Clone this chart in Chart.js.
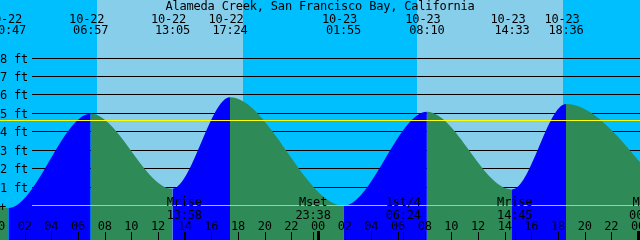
<!DOCTYPE html>
<html lang="en">
<head>
  <meta charset="UTF-8" />
  <title>Alameda Creek tides</title>
  <script src="https://cdn.jsdelivr.net/npm/chart.js"></script>
  <style>
    body {
      margin: 0;
      padding: 0;
      background: #00bfff;
    }
    .wrap {
      position: relative;
      width: 640px;
      height: 240px;
    }
  </style>
</head>
<body>
  <div class="wrap"><canvas id="tideChart"></canvas></div>

  <script>
    const title = 'Alameda Creek, San Francisco Bay, California';

    // tide highs and lows, "MM-DD HH:MM" local time, height in feet
    const tideStamps = ['10-21 16:10', '10-22 00:47', '10-22 06:57', '10-22 13:05', '10-22 17:24',
                        '10-23 01:55', '10-23 08:10', '10-23 14:33', '10-23 18:36', '10-24 03:25'];
    const tideFeet = [5.9, -0.12, 4.98, 0.92, 5.87, 0.0, 5.09, 0.89, 5.51, -0.3];

    const sunriseStamps = ['10-22 07:24', '10-23 07:24'];
    const sunsetStamps = ['10-22 18:21', '10-23 18:21'];

    const moonStamps = ['10-22 13:58', '10-22 23:38', '10-23 06:24', '10-23 14:45', '10-24 00:39'];
    const moonEvents = ['Mrise', 'Mset', '1st/4', 'Mrise', 'Mset'];

    const hourTicks = [0, 2, 4, 6, 8, 10, 12, 14, 16, 18, 20, 22, 24,
                       26, 28, 30, 32, 34, 36, 38, 40, 42, 44, 46, 48];
    const footTicks = [1, 2, 3, 4, 5, 6, 7, 8];
    const meanLevel = 4.63;

    const NIGHT = '#00bfff';
    const DAY = '#87ceeb';
    const RISE = '#0000ff';
    const FALL = '#2e8b57';
    const FONT = '12px "DejaVu Sans Mono", monospace';

    // hours counted from 10-22 00:00
    function toHours(stamp) {
      const [md, hm] = stamp.split(' ');
      const day = parseInt(md.split('-')[1]) - 22;
      const [h, m] = hm.split(':').map(Number);
      return day * 24 + h + m / 60;
    }

    function pad(n) {
      return (n < 10 ? '0' : '') + n;
    }

    function tick(ctx, px, bottom) {
      const tx = Math.round(px) + 0.5;
      ctx.beginPath();
      ctx.moveTo(tx, 232);
      ctx.lineTo(tx, bottom);
      ctx.stroke();
    }

    const tidePlot = {
      id: 'tidePlot',
      beforeDatasetsDraw(chart) {
        const { ctx, chartArea: a, scales: { x, y } } = chart;
        ctx.save();
        ctx.fillStyle = NIGHT;
        ctx.fillRect(a.left, a.top, a.width, a.height);
        ctx.fillStyle = DAY;
        sunriseStamps.forEach((s, i) => {
          const x0 = Math.round(x.getPixelForValue(toHours(s)));
          const x1 = Math.round(x.getPixelForValue(toHours(sunsetStamps[i])));
          ctx.fillRect(x0, a.top, x1 - x0, a.height);
        });
        ctx.strokeStyle = '#000';
        ctx.lineWidth = 1;
        footTicks.forEach(f => {
          const py = Math.floor(y.getPixelForValue(f)) + 0.5;
          ctx.beginPath();
          ctx.moveTo(32, py);
          ctx.lineTo(a.right, py);
          ctx.stroke();
        });
        ctx.restore();
      },
      afterDatasetsDraw(chart) {
        const { ctx, chartArea: a, scales: { x, y } } = chart;
        ctx.save();

        // zero line and mean level
        ctx.lineWidth = 1;
        ctx.strokeStyle = DAY;
        let py = Math.floor(y.getPixelForValue(0)) + 0.5;
        ctx.beginPath();
        ctx.moveTo(32, py);
        ctx.lineTo(a.right, py);
        ctx.stroke();

        ctx.strokeStyle = '#ffff00';
        py = Math.floor(y.getPixelForValue(meanLevel)) + 0.5;
        ctx.beginPath();
        ctx.moveTo(a.left, py);
        ctx.lineTo(a.right, py);
        ctx.stroke();

        ctx.font = FONT;
        if ('letterSpacing' in ctx) ctx.letterSpacing = '-0.2px';
        ctx.fillStyle = '#000';
        ctx.strokeStyle = '#000';
        ctx.textBaseline = 'alphabetic';

        ctx.textAlign = 'center';
        ctx.fillText(title, 320, 10);

        // high / low times along the top
        tideStamps.forEach(s => {
          const px = x.getPixelForValue(toHours(s));
          const [md, hm] = s.split(' ');
          ctx.fillText(md, px - 4, 23);
          ctx.fillText(hm, px, 34);
        });

        // foot labels
        ctx.textAlign = 'left';
        footTicks.forEach(f => {
          const ly = Math.floor(y.getPixelForValue(f)) + 4.5;
          ctx.fillText(f + ' ft', 0, ly);
        });
        ctx.fillText('+', -1, Math.floor(y.getPixelForValue(0)) + 5.5);

        // moon events
        ctx.textAlign = 'center';
        moonStamps.forEach((s, i) => {
          const px = x.getPixelForValue(toHours(s));
          ctx.fillText(moonEvents[i], px, 206);
          ctx.fillText(s.split(' ')[1], px, 218.5);
          tick(ctx, px, a.bottom);
        });

        // hour ticks, midnight gets a thick mark
        hourTicks.forEach(h => {
          const px = x.getPixelForValue(h);
          ctx.fillText(pad(h % 24), px, 229.5);
          if (h % 24 === 0) {
            ctx.fillRect(Math.round(px) - 1, 231, 3, a.bottom - 231);
          } else {
            tick(ctx, px, a.bottom);
          }
        });

        ctx.restore();
      }
    };

    new Chart(document.getElementById('tideChart'), {
      type: 'line',
      data: {
        datasets: [{
          data: tideStamps.map((s, i) => ({ x: toHours(s), y: tideFeet[i] })),
          fill: 'start',
          borderWidth: 0,
          borderColor: 'rgba(0,0,0,0)',
          pointRadius: 0,
          cubicInterpolationMode: 'monotone',
          backgroundColor: FALL,
          segment: {
            backgroundColor: c => c.p1.parsed.y > c.p0.parsed.y ? RISE : FALL
          }
        }]
      },
      options: {
        responsive: true,
        maintainAspectRatio: false,
        animation: false,
        events: [],
        layout: { padding: 0 },
        plugins: {
          legend: { display: false },
          tooltip: { enabled: false }
        },
        scales: {
          x: { type: 'linear', display: false, min: 0.15, max: 48.15 },
          y: { display: false, min: -1.85, max: 11.14 }
        }
      },
      plugins: [tidePlot]
    });
  </script>
</body>
</html>
